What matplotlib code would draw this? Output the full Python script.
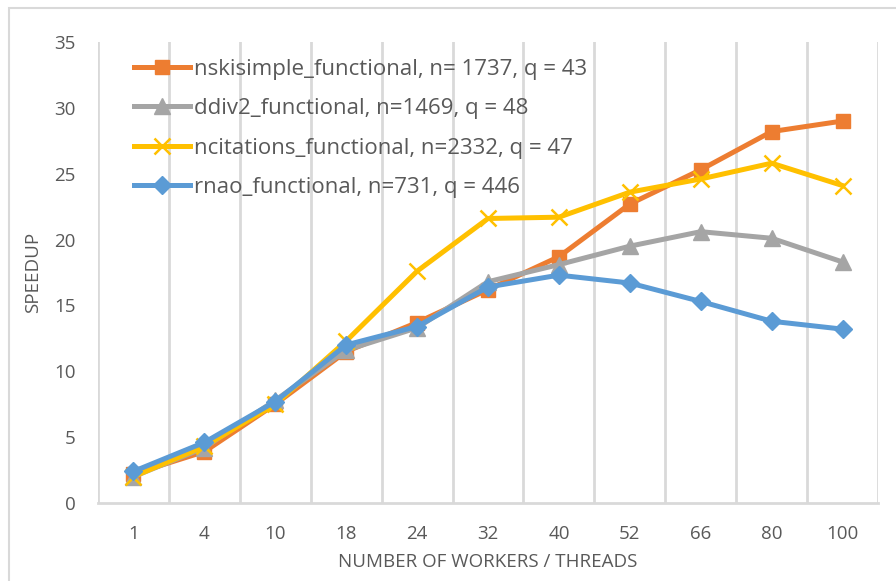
import matplotlib
matplotlib.use("Agg")
import matplotlib.pyplot as plt
from matplotlib.patches import Rectangle
import numpy as np

plt.rcParams['font.family'] = ['Open Sans', 'DejaVu Sans']

categories = ["1", "4", "10", "18", "24", "32", "40", "52", "66", "80", "100"]
nskisimple = [2.2, 3.9, 7.5, 11.5, 13.7, 16.2, 18.7, 22.7, 25.3, 28.2, 29.0]
ddiv2 = [2.0, 4.2, 7.8, 11.6, 13.3, 16.8, 18.1, 19.5, 20.6, 20.1, 18.3]
ncitations = [2.0, 4.3, 7.5, 12.3, 17.6, 21.6, 21.7, 23.6, 24.6, 25.8, 24.1]
rnao = [2.4, 4.6, 7.7, 12.0, 13.4, 16.4, 17.3, 16.7, 15.3, 13.8, 13.2]

labels = ["nskisimple_functional, n= 1737, q = 43",
          "ddiv2_functional, n=1469, q = 48",
          "ncitations_functional, n=2332, q = 47",
          "rnao_functional, n=731, q = 446"]

W, H = 896, 581
fig = plt.figure(figsize=(W / 100, H / 100), dpi=100)
ax = fig.add_axes([98 / W, 1 - 503 / H, (878 - 98) / W, (503 - 42) / H])

x = np.arange(len(categories))
grid_c = "#D9D9D9"
text_c = "#595959"

lw = 3.6
ax.plot(x, nskisimple, color="#ED7D31", lw=lw, marker="s", ms=9.5, label=labels[0], zorder=3)
ax.plot(x, ddiv2, color="#A5A5A5", lw=lw, marker="^", ms=11, label=labels[1], zorder=3)
ax.plot(x, ncitations, color="#FFC000", lw=lw, marker="x", ms=11, mew=1.8, label=labels[2], zorder=3)
ax.plot(x, rnao, color="#5B9BD5", lw=lw, marker="D", ms=9, label=labels[3], zorder=4)

ax.set_xlim(-0.5, len(categories) - 0.5)
ax.set_ylim(0, 35)
ax.set_yticks(np.arange(0, 36, 5))
ax.set_xticks(x)
ax.set_xticklabels(categories)
for b in np.arange(-0.5, len(categories), 1.0):
    ax.axvline(b, color=grid_c, lw=2.0, zorder=1)

for s in ["top", "right", "left"]:
    ax.spines[s].set_visible(False)
ax.spines["bottom"].set_color(grid_c)
ax.spines["bottom"].set_linewidth(2.0)
ax.tick_params(axis="both", length=0, labelsize=13.5, colors=text_c)
ax.tick_params(axis="x", pad=16)
ax.tick_params(axis="y", pad=16)

ax.set_ylabel("SPEEDUP", fontsize=13.5, color=text_c, labelpad=9)
ax.set_xlabel("NUMBER OF WORKERS / THREADS", fontsize=13.5, color=text_c, labelpad=7)

leg = ax.legend(loc="upper left", bbox_to_anchor=(0.035, 0.983), frameon=False,
                fontsize=16, handlelength=2.5, labelspacing=0.83,
                handletextpad=0.18, borderaxespad=0)
for t in leg.get_texts():
    t.set_color(text_c)

fig.patches.append(Rectangle((9 / W, -0.1), 1.2, 1 - 8 / H + 0.1, transform=fig.transFigure,
                             fill=False, edgecolor="#D9D9D9", lw=1.5))

fig.savefig("out.png", dpi=100)
